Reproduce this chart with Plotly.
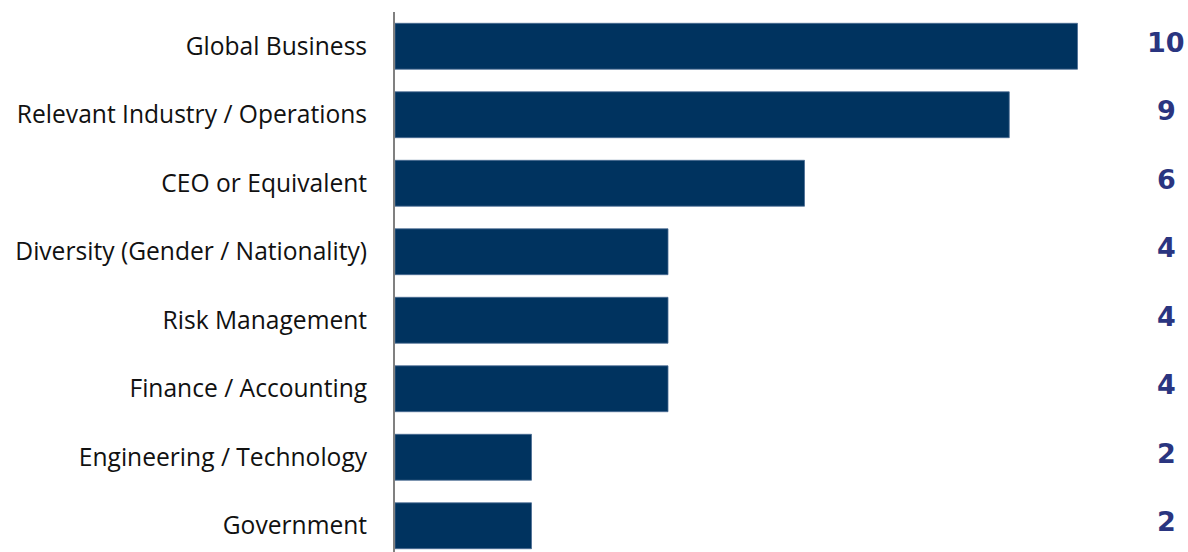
import plotly.graph_objects as go

categories = [
    "Global Business",
    "Relevant Industry / Operations",
    "CEO or Equivalent",
    "Diversity (Gender / Nationality)",
    "Risk Management",
    "Finance / Accounting",
    "Engineering / Technology",
    "Government",
]
values = [10, 9, 6, 4, 4, 4, 2, 2]

BAR = "#00335F"
NUM = "#2A3580"

fig = go.Figure()
fig.add_trace(go.Bar(
    x=values, y=categories, orientation="h",
    marker=dict(color=BAR, line=dict(color="#4A6C93", width=0.8)),
    width=0.67, hoverinfo="skip",
))

for c, v in zip(categories, values):
    fig.add_annotation(
        x=11.3, y=c, xref="x", yref="y", text=str(v), showarrow=False,
        xanchor="center", yanchor="middle", yshift=4,
        font=dict(family="DejaVu Sans", size=27, color=NUM, weight="bold"),
    )

fig.update_layout(
    width=1188, height=552,
    margin=dict(l=395, r=0, t=12, b=0),
    plot_bgcolor="white", paper_bgcolor="white",
    showlegend=False,
    xaxis=dict(range=[0, 11.619], showgrid=False, zeroline=False,
               showticklabels=False, showline=False, fixedrange=True),
    yaxis=dict(range=[7.383, -0.5], showgrid=False, zeroline=False,
               showline=True, linecolor="#808080", linewidth=2,
               ticks="", ticklabelstandoff=21,
               tickfont=dict(family="Open Sans", size=24.6, color="#111111"),
               fixedrange=True),
)

fig.write_html("out.html")
